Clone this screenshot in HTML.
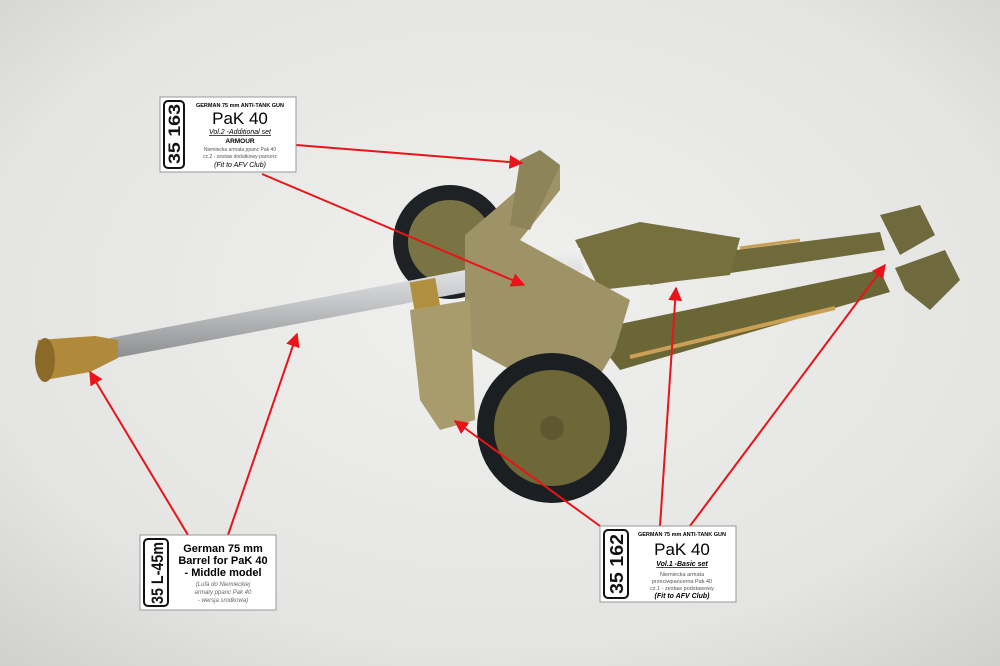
<!DOCTYPE html>
<html><head><meta charset="utf-8"><style>
html,body{margin:0;padding:0;width:1000px;height:666px;overflow:hidden;background:#e6e6e4}
svg{display:block}
text{font-family:"Liberation Sans",sans-serif}
</style></head><body>
<svg width="1000" height="666" viewBox="0 0 1000 666" xmlns="http://www.w3.org/2000/svg">
<defs>
<radialGradient id="bg" cx="50%" cy="45%" r="75%">
<stop offset="0" stop-color="#f0f0ee"/><stop offset="0.7" stop-color="#e4e4e2"/><stop offset="1" stop-color="#cfcfcd"/></radialGradient>
<linearGradient id="barrel" x1="0" y1="0" x2="0" y2="1">
<stop offset="0" stop-color="#f2f2f2"/><stop offset="0.5" stop-color="#c4c6c8"/><stop offset="1" stop-color="#8c8e90"/></linearGradient>
<marker id="ah" viewBox="0 0 10 10" refX="9" refY="5" markerWidth="7" markerHeight="7" orient="auto-start-reverse"><path d="M0,0L10,5L0,10z" fill="#e8141a"/></marker>
</defs>
<rect width="1000" height="666" fill="url(#bg)"/>
<!-- trails -->
<polygon points="640,262 880,232 885,250 650,285" fill="#6f6a3a"/>
<polygon points="600,345 615,325 880,270 890,292 620,370" fill="#6b6636"/>
<line x1="630" y1="357" x2="835" y2="308" stroke="#c9a055" stroke-width="4"/>
<line x1="740" y1="248" x2="800" y2="240" stroke="#c9a055" stroke-width="3"/>
<polygon points="880,215 920,205 935,235 900,255" fill="#6e6a3e"/>
<polygon points="895,268 945,250 960,280 930,310 905,290" fill="#6e6a3e"/>
<!-- far wheel -->
<circle cx="450" cy="242" r="57" fill="#1f2224"/>
<circle cx="450" cy="242" r="42" fill="#7a7343"/>
<!-- cradle -->
<polygon points="575,240 640,222 740,238 730,275 600,290" fill="#76703e"/>
<!-- barrel -->
<polygon points="110,338 580,248 584,270 115,358" fill="url(#barrel)"/>
<polygon points="38,340 95,336 118,340 118,358 90,372 45,380 35,360" fill="#b08a3a"/>
<ellipse cx="45" cy="360" rx="10" ry="22" fill="#8a6a28"/>
<rect x="412" y="280" width="26" height="30" fill="#b0903e" transform="rotate(-10 425 295)"/>
<!-- shield -->
<polygon points="465,235 500,205 540,170 560,165 560,190 520,240 630,300 615,350 600,375 520,375 465,345" fill="#9e9366"/>
<polygon points="520,160 540,150 560,165 530,230 510,225" fill="#8d845a"/>
<polygon points="410,310 470,300 475,420 440,430 420,400" fill="#a89c6c"/>
<!-- near wheel -->
<circle cx="552" cy="428" r="75" fill="#1c1f22"/>
<circle cx="552" cy="428" r="58" fill="#6e6838"/>
<circle cx="552" cy="428" r="12" fill="#5d5830"/>
<!-- arrows -->
<g stroke="#e8141a" stroke-width="2" fill="none" marker-end="url(#ah)">
<line x1="296" y1="145" x2="522" y2="163"/>
<line x1="262" y1="174" x2="524" y2="285"/>
<line x1="188" y1="535" x2="90" y2="372"/>
<line x1="228" y1="535" x2="297" y2="334"/>
<line x1="600" y1="526" x2="455" y2="421"/>
<line x1="660" y1="526" x2="676" y2="288"/>
<line x1="690" y1="526" x2="885" y2="265"/>
</g>
<!-- label 1 -->
<g>
<rect x="160" y="97" width="136" height="75" fill="#fff" stroke="#999"/>
<rect x="164" y="101" width="20" height="67" rx="4" fill="#fff" stroke="#111" stroke-width="2"/>
<text transform="translate(180,134) rotate(-90)" text-anchor="middle" font-size="17" font-weight="bold" fill="#111" textLength="60" lengthAdjust="spacingAndGlyphs">35 163</text>
<text x="240" y="107" text-anchor="middle" font-size="5.5" font-weight="bold">GERMAN 75 mm ANTI-TANK GUN</text>
<text x="240" y="124" text-anchor="middle" font-size="17">PaK 40</text>
<text x="240" y="134" text-anchor="middle" font-size="7" text-decoration="underline" font-style="italic">Vol.2 -Additional set</text>
<text x="240" y="143" text-anchor="middle" font-size="6.5" font-weight="bold">ARMOUR</text>
<text x="240" y="151" text-anchor="middle" font-size="5" fill="#555">Niemiecka armata ppanc Pak 40</text>
<text x="240" y="158" text-anchor="middle" font-size="5" fill="#555">cz.2 - zestaw dodatkowy-pancerz</text>
<text x="240" y="167" text-anchor="middle" font-size="7" font-style="italic">(Fit to AFV Club)</text>
</g>
<!-- label 2 -->
<g>
<rect x="140" y="535" width="136" height="75" fill="#fff" stroke="#999"/>
<rect x="144" y="539" width="24" height="67" rx="4" fill="#fff" stroke="#111" stroke-width="2"/>
<text transform="translate(163,573) rotate(-90)" text-anchor="middle" font-size="17" font-weight="bold" fill="#111" textLength="62" lengthAdjust="spacingAndGlyphs">35 L-45m</text>
<text x="223" y="552" text-anchor="middle" font-size="11" font-weight="bold">German 75 mm</text>
<text x="223" y="564" text-anchor="middle" font-size="11" font-weight="bold">Barrel for PaK 40</text>
<text x="223" y="576" text-anchor="middle" font-size="11" font-weight="bold">- Middle model</text>
<text x="223" y="586" text-anchor="middle" font-size="6" font-style="italic" fill="#666">(Lufa do Niemieckiej</text>
<text x="223" y="594" text-anchor="middle" font-size="6" font-style="italic" fill="#666">armaty ppanc Pak 40</text>
<text x="223" y="602" text-anchor="middle" font-size="6" font-style="italic" fill="#666">- wersja srodkowa)</text>
</g>
<!-- label 3 -->
<g>
<rect x="600" y="526" width="136" height="76" fill="#fff" stroke="#999"/>
<rect x="604" y="530" width="24" height="68" rx="4" fill="#fff" stroke="#111" stroke-width="2"/>
<text transform="translate(623,564) rotate(-90)" text-anchor="middle" font-size="18" font-weight="bold" fill="#111" textLength="60" lengthAdjust="spacingAndGlyphs">35 162</text>
<text x="682" y="536" text-anchor="middle" font-size="5.5" font-weight="bold">GERMAN 75 mm ANTI-TANK GUN</text>
<text x="682" y="555" text-anchor="middle" font-size="17">PaK 40</text>
<text x="682" y="566" text-anchor="middle" font-size="7" text-decoration="underline" font-style="italic" font-weight="bold">Vol.1 -Basic set</text>
<text x="682" y="576" text-anchor="middle" font-size="5.5" fill="#555">Niemiecka armata</text>
<text x="682" y="583" text-anchor="middle" font-size="5.5" fill="#555">przeciwpancerna Pak 40</text>
<text x="682" y="590" text-anchor="middle" font-size="5.5" fill="#555">cz.1 - zestaw podstawowy</text>
<text x="682" y="598" text-anchor="middle" font-size="7" font-style="italic" font-weight="bold">(Fit to AFV Club)</text>
</g>
</svg>
</body></html>
